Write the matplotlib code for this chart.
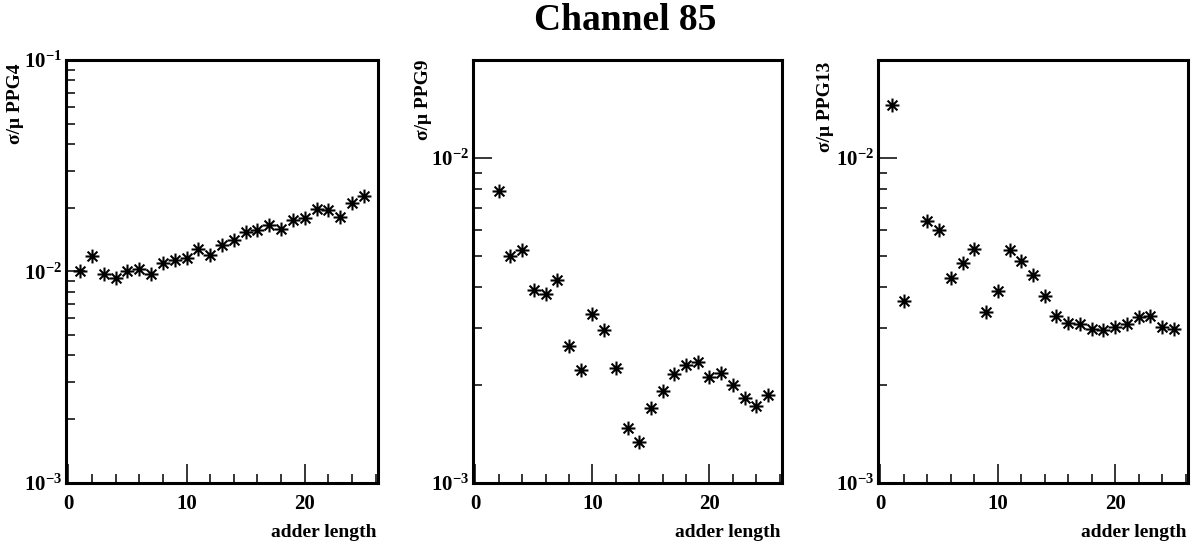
import matplotlib
matplotlib.use('Agg')
import matplotlib.pyplot as plt
from matplotlib.path import Path
from matplotlib.ticker import LogLocator, NullFormatter, FixedLocator, MultipleLocator

plt.rcParams['font.family'] = 'Liberation Serif'
plt.rcParams['font.weight'] = 'bold'
plt.rcParams['mathtext.fontset'] = 'custom'
plt.rcParams['mathtext.rm'] = 'Liberation Serif:bold'
plt.rcParams['mathtext.bf'] = 'Liberation Serif:bold'

# values
x_ppg4 = list(range(1, 26))
ppg4 = [0.01007, 0.01186, 0.00971, 0.00927, 0.01007, 0.01026, 0.00975, 0.01096,
        0.01128, 0.01157, 0.01277, 0.01200, 0.01337, 0.01413, 0.01531, 0.01564,
        0.01663, 0.01588, 0.01758, 0.01791, 0.01974, 0.01945, 0.01810, 0.02109,
        0.02266]

x_ppg9 = list(range(2, 26))
ppg9 = [0.00791, 0.00499, 0.00522, 0.00392, 0.00382, 0.00420, 0.00264, 0.00222,
        0.00330, 0.00296, 0.00225, 0.00147, 0.00133, 0.00170, 0.00191, 0.00216,
        0.00230, 0.00236, 0.00212, 0.00218, 0.00200, 0.00182, 0.00172, 0.00186]

x_ppg13 = [1, 2] + list(range(4, 26))
ppg13 = [0.01449, 0.00362, 0.00637, 0.00598, 0.00428, 0.00473, 0.00523, 0.00336,
         0.00390, 0.00522, 0.00482, 0.00437, 0.00376, 0.00326, 0.00311, 0.00309,
         0.00298, 0.00296, 0.00301, 0.00309, 0.00324, 0.00327, 0.00301, 0.00298]

panels = [
    (x_ppg4, ppg4, 'σ/μ PPG4', (1e-3, 1e-1), [1e-3, 1e-2, 1e-1]),
    (x_ppg9, ppg9, 'σ/μ PPG9', (1e-3, 2e-2), [1e-3, 1e-2]),
    (x_ppg13, ppg13, 'σ/μ PPG13', (1e-3, 2e-2), [1e-3, 1e-2]),
]
exps = {1e-3: '-3', 1e-2: '-2', 1e-1: '-1'}

# asterisk marker: 8 arms
star = Path([(-1, 0), (1, 0), (0, -1), (0, 1),
             (-0.7071, -0.7071), (0.7071, 0.7071), (-0.7071, 0.7071), (0.7071, -0.7071)],
            [Path.MOVETO, Path.LINETO] * 4)

W, H = 1199, 541
fig = plt.figure(figsize=(W / 100, H / 100), dpi=100)

boxes = [(66, 378), (473, 782), (878, 1188)]
ylab_pos = [(16, 63), (424, 60), (826, 62)]
top, bottom = 60, 482.7

for (xs, ys, lab, ylim, majors), (l, r), (lx, ly) in zip(panels, boxes, ylab_pos):
    ax = fig.add_axes([l / W, 1 - bottom / H, (r - l) / W, (bottom - top) / H])
    ax.plot(xs, ys, linestyle='none', marker=star, markersize=10,
            markeredgewidth=1.5, color='black')
    ax.set_yscale('log')
    ax.set_ylim(*ylim)
    ax.set_xlim(-0.2, 26.2)

    for s in ax.spines.values():
        s.set_linewidth(2.2)

    ax.xaxis.set_major_locator(FixedLocator([0, 10, 20]))
    ax.xaxis.set_minor_locator(MultipleLocator(2))
    ax.yaxis.set_major_locator(FixedLocator(majors))
    ax.yaxis.set_minor_locator(LogLocator(subs=range(2, 10)))
    ax.yaxis.set_minor_formatter(NullFormatter())
    ax.set_yticklabels([r'$\mathbf{10^{' + exps[m] + '}}$' for m in majors])
    ax.set_xticklabels(['0', '10', '20'])

    ax.tick_params(which='both', direction='in', top=False, right=False, width=1.1)
    ax.tick_params(which='major', length=13.5)
    ax.tick_params(which='minor', length=6.5)
    ax.tick_params(axis='x', labelsize=15, pad=8)
    ax.tick_params(axis='y', labelsize=15, pad=3)

    fig.text(lx / W, 1 - ly / H, lab, rotation=90, ha='center', va='top',
             fontsize=14, fontweight='bold')
    ax.text(0.995, -0.117, 'adder length', transform=ax.transAxes,
            ha='right', va='center', fontsize=14, fontweight='bold')

fig.text(625 / W, 1 - 20 / H, 'Channel 85', ha='center', va='center',
         fontsize=27, fontweight='bold')

fig.savefig('out.png', dpi=100)
